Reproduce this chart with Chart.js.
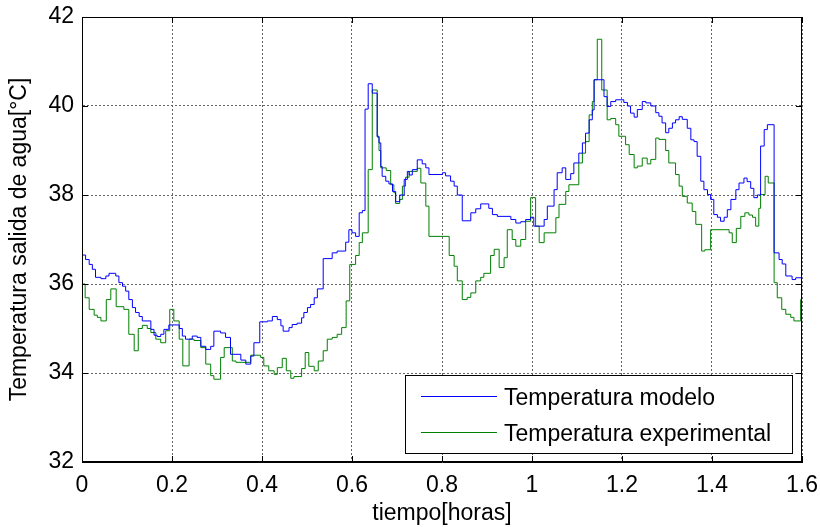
<!DOCTYPE html>
<html>
<head>
<meta charset="utf-8">
<script src="https://cdn.jsdelivr.net/npm/chart.js@4.4.1/dist/chart.umd.min.js"></script>
<style>
  body { margin: 0; background: #fff; }
  #wrap { width: 820px; height: 527px; }
</style>
</head>
<body>
<div id="wrap"><canvas id="tempChart" width="820" height="527"></canvas></div>
<script>
// tiempo [horas] / temperatura [°C]
const modeloTiempo = [0, 0, 0.008, 0.016, 0.023, 0.030, 0.042, 0.053, 0.060, 0.075, 0.082, 0.090, 0.097, 0.104, 0.112, 0.119, 0.127, 0.134, 0.153, 0.160, 0.167, 0.175, 0.182, 0.193, 0.216, 0.223, 0.230, 0.245, 0.256, 0.264, 0.275, 0.286, 0.293, 0.308, 0.319, 0.330, 0.353, 0.364, 0.375, 0.382, 0.395, 0.412, 0.423, 0.434, 0.442, 0.447, 0.460, 0.467, 0.478, 0.488, 0.493, 0.501, 0.508, 0.516, 0.523, 0.536, 0.556, 0.567, 0.586, 0.593, 0.600, 0.608, 0.616, 0.623, 0.629, 0.636, 0.645, 0.656, 0.660, 0.664, 0.667, 0.675, 0.682, 0.690, 0.697, 0.706, 0.716, 0.723, 0.727, 0.734, 0.745, 0.756, 0.764, 0.771, 0.801, 0.808, 0.819, 0.827, 0.834, 0.845, 0.864, 0.875, 0.886, 0.904, 0.912, 0.923, 0.953, 0.964, 0.975, 0.986, 0.997, 1.004, 1.027, 1.034, 1.049, 1.056, 1.067, 1.075, 1.086, 1.093, 1.104, 1.112, 1.119, 1.127, 1.134, 1.138, 1.160, 1.167, 1.175, 1.186, 1.204, 1.212, 1.219, 1.227, 1.234, 1.245, 1.253, 1.264, 1.275, 1.282, 1.289, 1.297, 1.304, 1.312, 1.319, 1.327, 1.334, 1.345, 1.353, 1.360, 1.367, 1.375, 1.382, 1.390, 1.397, 1.404, 1.412, 1.419, 1.427, 1.434, 1.442, 1.453, 1.460, 1.471, 1.478, 1.486, 1.493, 1.501, 1.508, 1.516, 1.523, 1.538, 1.549, 1.556, 1.564, 1.578, 1.586, 1.600];
const modeloTemp = [35.60, 36.65, 36.55, 36.44, 36.33, 36.15, 36.12, 36.18, 36.24, 36.18, 36.03, 35.95, 35.84, 35.65, 35.47, 35.36, 35.27, 35.17, 34.98, 34.85, 34.82, 34.87, 34.98, 35.08, 35.00, 34.83, 34.76, 34.83, 34.80, 34.60, 34.53, 34.60, 34.94, 34.90, 34.80, 34.42, 34.29, 34.20, 34.38, 34.68, 35.15, 35.17, 35.27, 35.20, 35.06, 34.94, 35.02, 35.09, 35.12, 35.24, 35.36, 35.47, 35.54, 35.69, 35.89, 36.57, 36.70, 36.74, 36.94, 37.22, 37.15, 37.07, 37.60, 37.65, 39.93, 40.50, 40.29, 39.32, 39.17, 38.64, 38.42, 38.31, 38.25, 38.08, 37.85, 38.00, 38.35, 38.53, 38.45, 38.57, 38.79, 38.70, 38.61, 38.46, 38.50, 38.43, 38.31, 38.20, 38.00, 37.42, 37.60, 37.69, 37.80, 37.70, 37.56, 37.52, 37.45, 37.37, 37.40, 37.45, 37.50, 37.30, 37.45, 37.75, 38.12, 38.50, 38.61, 38.35, 38.48, 38.72, 38.94, 39.17, 39.39, 39.69, 39.91, 40.59, 40.21, 39.99, 40.10, 40.14, 40.08, 40.00, 39.84, 39.75, 39.92, 40.10, 40.07, 40.00, 39.85, 39.77, 39.62, 39.40, 39.50, 39.62, 39.69, 39.76, 39.70, 39.50, 39.24, 39.20, 38.87, 38.31, 38.12, 38.01, 37.90, 37.56, 37.50, 37.41, 37.50, 37.67, 37.90, 38.12, 38.27, 38.38, 38.30, 38.15, 37.94, 38.00, 39.10, 39.47, 39.58, 36.70, 36.55, 36.45, 36.18, 36.10, 36.14, 36.18];

const expTiempo = [0, 0.007, 0.016, 0.027, 0.034, 0.042, 0.054, 0.064, 0.076, 0.093, 0.104, 0.116, 0.125, 0.134, 0.145, 0.153, 0.164, 0.175, 0.186, 0.195, 0.204, 0.216, 0.224, 0.238, 0.249, 0.264, 0.275, 0.286, 0.293, 0.308, 0.316, 0.334, 0.342, 0.375, 0.397, 0.404, 0.415, 0.427, 0.434, 0.445, 0.454, 0.464, 0.471, 0.488, 0.496, 0.504, 0.516, 0.525, 0.536, 0.545, 0.556, 0.567, 0.577, 0.587, 0.595, 0.608, 0.616, 0.623, 0.636, 0.645, 0.656, 0.660, 0.664, 0.676, 0.686, 0.693, 0.697, 0.706, 0.712, 0.719, 0.727, 0.745, 0.753, 0.764, 0.771, 0.816, 0.827, 0.834, 0.845, 0.856, 0.864, 0.875, 0.886, 0.893, 0.908, 0.916, 0.927, 0.938, 0.945, 0.956, 0.964, 0.975, 0.986, 0.997, 1.008, 1.016, 1.027, 1.053, 1.060, 1.075, 1.082, 1.104, 1.112, 1.119, 1.127, 1.134, 1.138, 1.145, 1.155, 1.167, 1.175, 1.186, 1.193, 1.208, 1.216, 1.227, 1.234, 1.245, 1.256, 1.264, 1.275, 1.282, 1.297, 1.304, 1.319, 1.327, 1.334, 1.345, 1.356, 1.364, 1.377, 1.384, 1.397, 1.438, 1.445, 1.454, 1.464, 1.473, 1.482, 1.490, 1.497, 1.504, 1.508, 1.518, 1.525, 1.538, 1.545, 1.555, 1.564, 1.575, 1.582, 1.597, 1.600];
const expTemp = [36.00, 35.69, 35.43, 35.30, 35.25, 35.17, 35.65, 35.89, 35.49, 35.43, 34.87, 34.50, 35.00, 35.07, 35.00, 34.91, 34.76, 34.68, 34.95, 35.43, 35.17, 34.76, 34.16, 34.76, 34.73, 34.57, 34.20, 33.94, 33.86, 34.35, 34.57, 34.27, 34.24, 34.40, 34.35, 34.16, 34.05, 33.97, 34.12, 34.33, 34.05, 33.88, 33.92, 34.10, 34.46, 34.15, 34.05, 34.27, 34.50, 34.76, 34.80, 34.87, 35.02, 35.62, 36.44, 36.64, 36.93, 37.15, 38.57, 40.36, 39.30, 39.00, 38.61, 38.55, 38.23, 38.05, 37.81, 37.90, 38.20, 38.40, 38.53, 38.60, 38.27, 37.75, 37.07, 36.64, 36.40, 36.07, 35.65, 35.70, 35.80, 36.07, 36.15, 36.24, 36.64, 36.78, 36.37, 36.59, 37.22, 37.00, 36.85, 37.00, 37.41, 37.94, 37.30, 36.93, 37.15, 37.49, 37.79, 38.08, 38.23, 38.72, 38.94, 39.20, 39.80, 40.10, 40.59, 41.50, 40.36, 39.69, 39.72, 39.58, 39.32, 39.13, 38.91, 38.61, 38.65, 38.83, 38.70, 38.80, 39.28, 39.25, 39.00, 38.72, 38.46, 38.20, 37.97, 37.82, 37.63, 37.34, 36.74, 36.77, 37.22, 37.15, 36.93, 37.25, 37.52, 37.60, 37.55, 37.50, 37.30, 37.70, 38.01, 38.42, 38.27, 36.03, 35.69, 35.43, 35.32, 35.25, 35.17, 35.65, 35.65];

const xTicks = [0, 0.2, 0.4, 0.6, 0.8, 1, 1.2, 1.4, 1.6];
const yTicks = [32, 34, 36, 38, 40, 42];
const seriesNames = ['Temperatura modelo', 'Temperatura experimental'];
const seriesColors = ['#0000ff', '#008000'];

const FONT = "'Liberation Sans', Arial, sans-serif";

function toPoints(xs, ys) {
    return xs.map((x, i) => ({ x: x, y: ys[i] }));
}

// MATLAB-like frame: top/right border, inward ticks and legend box
const matlabFrame = {
    id: 'matlabFrame',
    afterDatasetsDraw(chart) {
        const { ctx, chartArea: a, scales } = chart;
        ctx.save();
        ctx.strokeStyle = '#000';
        ctx.lineWidth = 1;
        ctx.strokeRect(a.left + 0.5, a.top + 0.5, a.right - a.left - 1, a.bottom - a.top - 1);

        ctx.beginPath();
        xTicks.forEach(v => {
            const px = Math.round(scales.x.getPixelForValue(v)) + 0.5;
            ctx.moveTo(px, a.bottom); ctx.lineTo(px, a.bottom - 6);
            ctx.moveTo(px, a.top); ctx.lineTo(px, a.top + 6);
        });
        yTicks.forEach(v => {
            const py = Math.round(scales.y.getPixelForValue(v)) + 0.5;
            ctx.moveTo(a.left, py); ctx.lineTo(a.left + 6, py);
            ctx.moveTo(a.right, py); ctx.lineTo(a.right - 6, py);
        });
        ctx.stroke();

        // legend
        const lx = 405, ly = 375, lw = 387, lh = 78;
        ctx.fillStyle = '#fff';
        ctx.fillRect(lx, ly, lw, lh);
        ctx.strokeRect(lx + 0.5, ly + 0.5, lw, lh);
        ctx.font = '23px ' + FONT;
        ctx.textBaseline = 'middle';
        seriesNames.forEach((name, i) => {
            const y = ly + 21 + i * 36;
            ctx.strokeStyle = seriesColors[i];
            ctx.beginPath();
            ctx.moveTo(421, y + 0.5);
            ctx.lineTo(497, y + 0.5);
            ctx.stroke();
            ctx.fillStyle = '#000';
            ctx.fillText(name, 504, y + 3);
        });
        ctx.restore();
    }
};

const ctx = document.getElementById('tempChart').getContext('2d');
new Chart(ctx, {
    type: 'line',
    data: {
        datasets: [
            {
                label: seriesNames[0],
                data: toPoints(modeloTiempo, modeloTemp),
                borderColor: seriesColors[0],
                borderWidth: 1,
                pointRadius: 0,
                stepped: true,
                fill: false
            },
            {
                label: seriesNames[1],
                data: toPoints(expTiempo, expTemp),
                borderColor: seriesColors[1],
                borderWidth: 1,
                pointRadius: 0,
                stepped: true,
                fill: false
            }
        ]
    },
    options: {
        responsive: false,
        animation: false,
        layout: { padding: { left: 0, right: 18, top: 17, bottom: 0 } },
        plugins: {
            legend: { display: false },
            tooltip: { enabled: false }
        },
        scales: {
            x: {
                type: 'linear',
                min: 0,
                max: 1.6,
                afterBuildTicks: scale => { scale.ticks = xTicks.map(v => ({ value: v })); },
                afterFit: scale => {
                    scale.height = 65;
                    scale.paddingLeft = 0;
                    scale.paddingRight = 0;
                },
                grid: { color: '#666', drawTicks: false, lineWidth: 1 },
                border: { display: true, color: '#000', width: 1, dash: [2, 2] },
                ticks: {
                    color: '#000',
                    padding: 10,
                    maxRotation: 0,
                    font: { family: FONT, size: 23 },
                    callback: v => String(Math.round(v * 10) / 10)
                },
                title: {
                    display: true,
                    text: 'tiempo[horas]',
                    color: '#000',
                    padding: { top: 0, bottom: 0 },
                    font: { family: FONT, size: 23 }
                }
            },
            y: {
                type: 'linear',
                min: 32,
                max: 42,
                afterBuildTicks: scale => { scale.ticks = yTicks.map(v => ({ value: v })); },
                afterFit: scale => {
                    scale.width = 82;
                    scale.paddingTop = 0;
                    scale.paddingBottom = 0;
                },
                grid: { color: '#666', drawTicks: false, lineWidth: 1 },
                border: { display: true, color: '#000', width: 1, dash: [2, 2] },
                ticks: {
                    color: '#000',
                    padding: 8,
                    font: { family: FONT, size: 23 }
                },
                title: {
                    display: true,
                    text: 'Temperatura salida de agua[°C]',
                    color: '#000',
                    padding: { top: 6, bottom: 0 },
                    font: { family: FONT, size: 23 }
                }
            }
        }
    },
    plugins: [matlabFrame]
});
</script>
</body>
</html>
